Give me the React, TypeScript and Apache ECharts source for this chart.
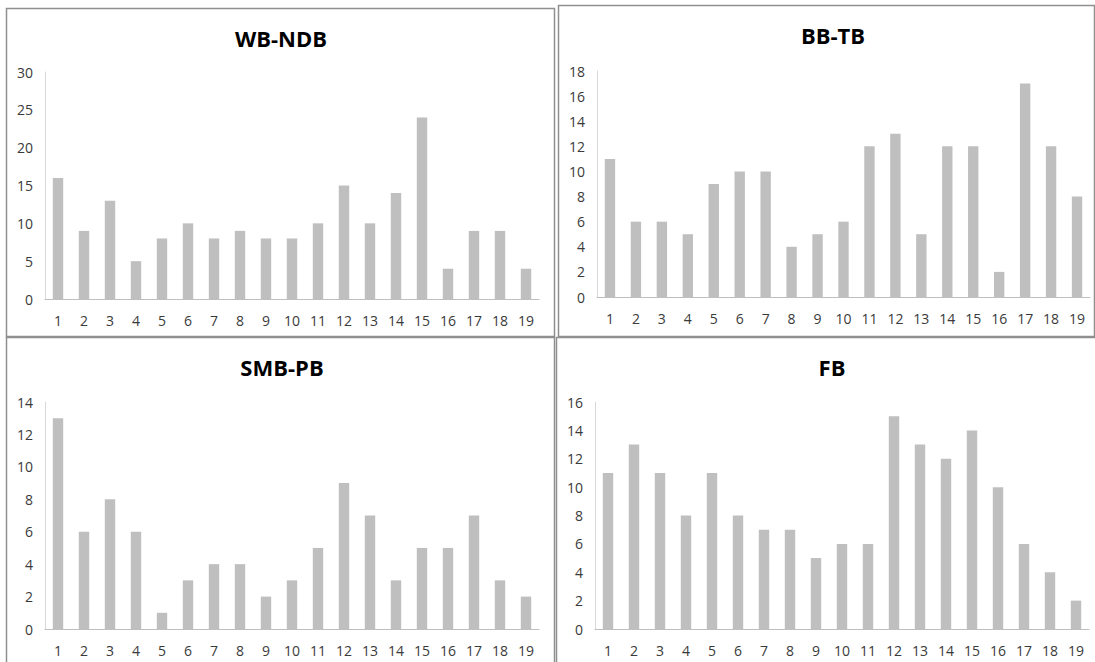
import React, { useEffect, useRef } from "react";
import * as echarts from "echarts";

const categories = ["1","2","3","4","5","6","7","8","9","10","11","12","13","14","15","16","17","18","19"];
const wbNdb = [16, 9, 13, 5, 8, 10, 8, 9, 8, 8, 10, 15, 10, 14, 24, 4, 9, 9, 4];
const bbTb = [11, 6, 6, 5, 9, 10, 10, 4, 5, 6, 12, 13, 5, 12, 12, 2, 17, 12, 8];
const smbPb = [13, 6, 8, 6, 1, 3, 4, 4, 2, 3, 5, 9, 7, 3, 5, 5, 7, 3, 2];
const fb = [11, 13, 11, 8, 11, 8, 7, 7, 5, 6, 6, 15, 13, 12, 14, 10, 6, 4, 2];
const titles = ["WB-NDB", "BB-TB", "SMB-PB", "FB"];
const yMax = [30, 18, 14, 16];
const yStep = [5, 2, 2, 2];

export default function App() {
  const ref = useRef<HTMLDivElement>(null);
  useEffect(() => {
    if (!ref.current) return;
    const chart = echarts.init(ref.current, undefined, { renderer: "svg" });
    const seriesData = [wbNdb, bbTb, smbPb, fb];
    const grids = [
      { left: 45, top: 72, width: 494, height: 227 },
      { left: 597, top: 71, width: 493, height: 226 },
      { left: 45, top: 402, width: 494, height: 227 },
      { left: 595, top: 402, width: 494, height: 227 },
    ];
    const titlePos = [
      { x: 281, y: 38 },
      { x: 833, y: 35 },
      { x: 282, y: 367 },
      { x: 832, y: 367 },
    ];
    const borders = [
      { x: 6.5, y: 8.5, width: 548, height: 328 },
      { x: 558.5, y: 5.5, width: 536, height: 331 },
      { x: 6.5, y: 337.5, width: 548, height: 340 },
      { x: 556.5, y: 337.5, width: 540, height: 340 },
    ];
    const font = "'Open Sans', 'Noto Sans', sans-serif";
    chart.setOption({
      animation: false,
      backgroundColor: "#ffffff",
      grid: grids,
      xAxis: grids.map((_, i) => ({
        type: "category",
        gridIndex: i,
        data: categories,
        axisLine: { lineStyle: { color: "#bfbfbf", width: 1 } },
        axisTick: { show: false },
        axisLabel: { color: "#3a3a3a", fontSize: 14, fontFamily: font, margin: 14, interval: 0 },
      })),
      yAxis: grids.map((_, i) => ({
        type: "value",
        gridIndex: i,
        min: 0,
        max: yMax[i],
        interval: yStep[i],
        axisLine: { show: true, lineStyle: { color: "#d9d9d9", width: 1 } },
        axisTick: { show: false },
        splitLine: { show: false },
        axisLabel: { color: "#3a3a3a", fontSize: 14, fontFamily: font, margin: 12 },
      })),
      series: seriesData.map((d, i) => ({
        type: "bar",
        name: titles[i],
        xAxisIndex: i,
        yAxisIndex: i,
        data: d,
        barCategoryGap: "60%",
        itemStyle: { color: "#bfbfbf" },
      })),
      graphic: [
        ...borders.map((b) => ({
          type: "rect",
          shape: b,
          style: { fill: "none", stroke: "#8f8f8f", lineWidth: 1.5 },
          silent: true,
        })),
        ...titles.map((t, i) => ({
          type: "text",
          x: titlePos[i].x,
          y: titlePos[i].y,
          style: {
            text: t,
            textAlign: "center",
            textVerticalAlign: "middle",
            fontSize: 22,
            fontWeight: "bold",
            fontFamily: font,
            fill: "#000000",
          },
        })),
      ],
    });
    return () => chart.dispose();
  }, []);
  return (
    <div
      ref={ref}
      style={{ position: "fixed", left: 0, top: 0, width: 1095, height: 662 }}
    />
  );
}
